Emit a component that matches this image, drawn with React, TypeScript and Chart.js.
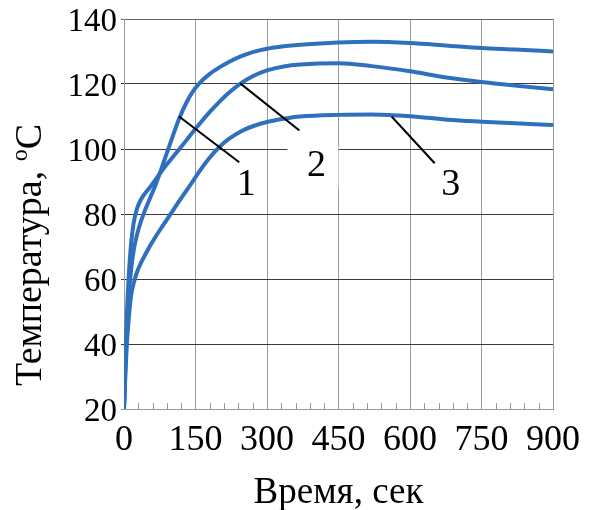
import React, { useEffect, useRef } from 'react';
import { Chart, registerables } from 'chart.js';

Chart.register(...registerables);

// Time, seconds
const timeSec = [0, 3, 6, 10, 15, 20, 27, 35, 45, 55, 65, 75, 90, 105, 115, 130, 145, 160, 180, 200, 220, 245, 270, 300, 335, 370, 450, 520, 600, 680, 750, 820, 900];
// Temperature, °C
const curve1 = [20, 33, 44, 55, 63, 68.5, 73.5, 77.5, 81.5, 85, 88.5, 92.5, 98.8, 105.1, 109.1, 114, 117.8, 120.5, 123.1, 125.1, 126.8, 128.5, 129.8, 130.85, 131.6, 132.1, 132.8, 133, 132.6, 131.8, 131.1, 130.6, 130];
const curve2 = [20, 36, 49, 61, 71, 77, 81.5, 84.3, 86.5, 88.3, 90.3, 92.4, 95.3, 98, 99.8, 102.5, 105.3, 108, 111.4, 114.5, 117.3, 120.2, 122.4, 124.2, 125.4, 126, 126.4, 125.5, 123.9, 121.9, 120.6, 119.5, 118.4];
const curve3 = [20, 31, 40, 48, 55, 58.5, 62, 64.8, 67.6, 70.3, 72.7, 75, 78.3, 81.6, 83.8, 87, 90.2, 93.5, 97.4, 100.6, 103.1, 105.4, 107, 108.3, 109.3, 110, 110.5, 110.6, 110.1, 109, 108.4, 107.9, 107.4];

const seriesLabels = ['1', '2', '3'];
const xMin = 0, xMax = 900, xStep = 150, xMinorStep = 30;
const yMin = 20, yMax = 140, yStep = 20;
const xTitle = 'Время, сек';
const yTitleMain = 'Температура, ';
const yTitleSup = 'o';
const yTitleEnd = 'C';

// leader lines in data coordinates: [t0, y0, t1, y1, labelT, labelY]
const leader1 = [115.6, 110.0, 241.8, 95.9, 256.5, 88.8];
const leader2 = [243.9, 120.2, 368, 105.7, 403.7, 94.7];
const leader3 = [561.4, 110.0, 651.8, 95.6, 685.5, 88.8];

const SERIF = '"Liberation Serif", "Times New Roman", serif';
const BLUE = 'rgb(47,112,190)';

export default function App() {
  const ref = useRef<HTMLCanvasElement>(null);
  useEffect(() => {
    document.body.style.margin = '0';
    const canvas = ref.current!;
    const pts = (vals: number[]) => timeSec.map((t, i) => ({ x: t, y: vals[i] }));
    const leaders = [leader1, leader2, leader3];

    const annot = {
      id: 'annot',
      beforeDatasetsDraw(chart: any) {
        const { ctx, chartArea, scales } = chart;
        ctx.save();
        ctx.strokeStyle = '#999';
        ctx.lineWidth = 1;
        for (let v = xMin + xMinorStep; v < xMax; v += xMinorStep) {
          if (v % xStep === 0) continue;
          const px = Math.round(scales.x.getPixelForValue(v)) + 0.5;
          ctx.beginPath();
          ctx.moveTo(px, chartArea.bottom);
          ctx.lineTo(px, chartArea.bottom - 6);
          ctx.stroke();
        }
        ctx.restore();
      },
      afterDatasetsDraw(chart: any) {
        const { ctx, scales } = chart;
        const X = (v: number) => scales.x.getPixelForValue(v);
        const Y = (v: number) => scales.y.getPixelForValue(v);
        ctx.save();
        leaders.forEach((l, i) => {
          const lx = X(l[4]), ly = Y(l[5]);
          if (i === 1) {
            ctx.fillStyle = '#fff';
            ctx.fillRect(lx - 29, ly - 20, 51, 42);
          }
          ctx.strokeStyle = '#000';
          ctx.lineWidth = 2;
          ctx.beginPath();
          ctx.moveTo(X(l[0]), Y(l[1]));
          ctx.lineTo(X(l[2]), Y(l[3]));
          ctx.stroke();
          ctx.fillStyle = '#000';
          ctx.font = `38px ${SERIF}`;
          ctx.textAlign = 'center';
          ctx.textBaseline = 'middle';
          ctx.fillText(seriesLabels[i], lx, ly);
        });
        ctx.restore();
      },
      afterDraw(chart: any) {
        const { ctx, chartArea } = chart;
        ctx.save();
        ctx.fillStyle = '#000';
        ctx.font = `37px ${SERIF}`;
        ctx.textAlign = 'center';
        ctx.textBaseline = 'alphabetic';
        ctx.fillText(xTitle, (chartArea.left + chartArea.right) / 2, 503);

        // rotated y title
        ctx.translate(41, 255);
        ctx.rotate(-Math.PI / 2);
        const mainFont = `38px ${SERIF}`;
        const supFont = `24px ${SERIF}`;
        ctx.font = mainFont;
        const w1 = ctx.measureText(yTitleMain).width;
        const w3 = ctx.measureText(yTitleEnd).width;
        ctx.font = supFont;
        const w2 = ctx.measureText(yTitleSup).width;
        const total = w1 + w2 + w3;
        let x = -total / 2;
        ctx.textAlign = 'left';
        ctx.font = mainFont;
        ctx.fillText(yTitleMain, x, 0);
        x += w1;
        ctx.font = supFont;
        ctx.fillText(yTitleSup, x, -14);
        x += w2;
        ctx.font = mainFont;
        ctx.fillText(yTitleEnd, x, 0);
        ctx.restore();
      },
    };

    const chart = new Chart(canvas, {
      type: 'line',
      data: {
        datasets: [curve1, curve2, curve3].map((c, i) => ({
          label: seriesLabels[i],
          data: pts(c),
          borderColor: BLUE,
          borderWidth: 4,
          pointRadius: 0,
          fill: false,
          cubicInterpolationMode: 'monotone' as const,
        })),
      },
      options: {
        animation: false,
        responsive: false,
        events: [],
        layout: { padding: { top: 19, right: 45, left: 0, bottom: 0 } },
        plugins: { legend: { display: false }, tooltip: { enabled: false } },
        scales: {
          x: {
            type: 'linear',
            min: xMin,
            max: xMax,
            ticks: {
              stepSize: xStep,
              color: '#000',
              font: { family: SERIF, size: 36, lineHeight: 1.2 },
              padding: 10,
              maxRotation: 0,
              autoSkip: false,
            },
            grid: { color: '#9a9a9a', drawTicks: false, lineWidth: 1 },
            border: { color: '#9a9a9a' },
            afterFit: (s: any) => { s.height = 101; },
          },
          y: {
            type: 'linear',
            min: yMin,
            max: yMax,
            ticks: {
              stepSize: yStep,
              color: '#000',
              font: { family: SERIF, size: 33, lineHeight: 0.8 },
              padding: 4,
              labelOffset: 3,
            },
            grid: {
              color: (c: any) => (c.tick && c.tick.value === yMin ? '#9a9a9a' : c.tick && c.tick.value === yMax ? '#666' : '#3a3a3a'),
              tickLength: 3,
              lineWidth: 1,
            },
            border: { color: '#9a9a9a' },
            afterFit: (s: any) => { s.width = 124; },
          },
        },
      },
      plugins: [annot],
    });
    return () => chart.destroy();
  }, []);
  return (
    <div style={{ width: 598, height: 510 }}>
      <canvas ref={ref} width={598} height={510} style={{ display: 'block' }} />
    </div>
  );
}
